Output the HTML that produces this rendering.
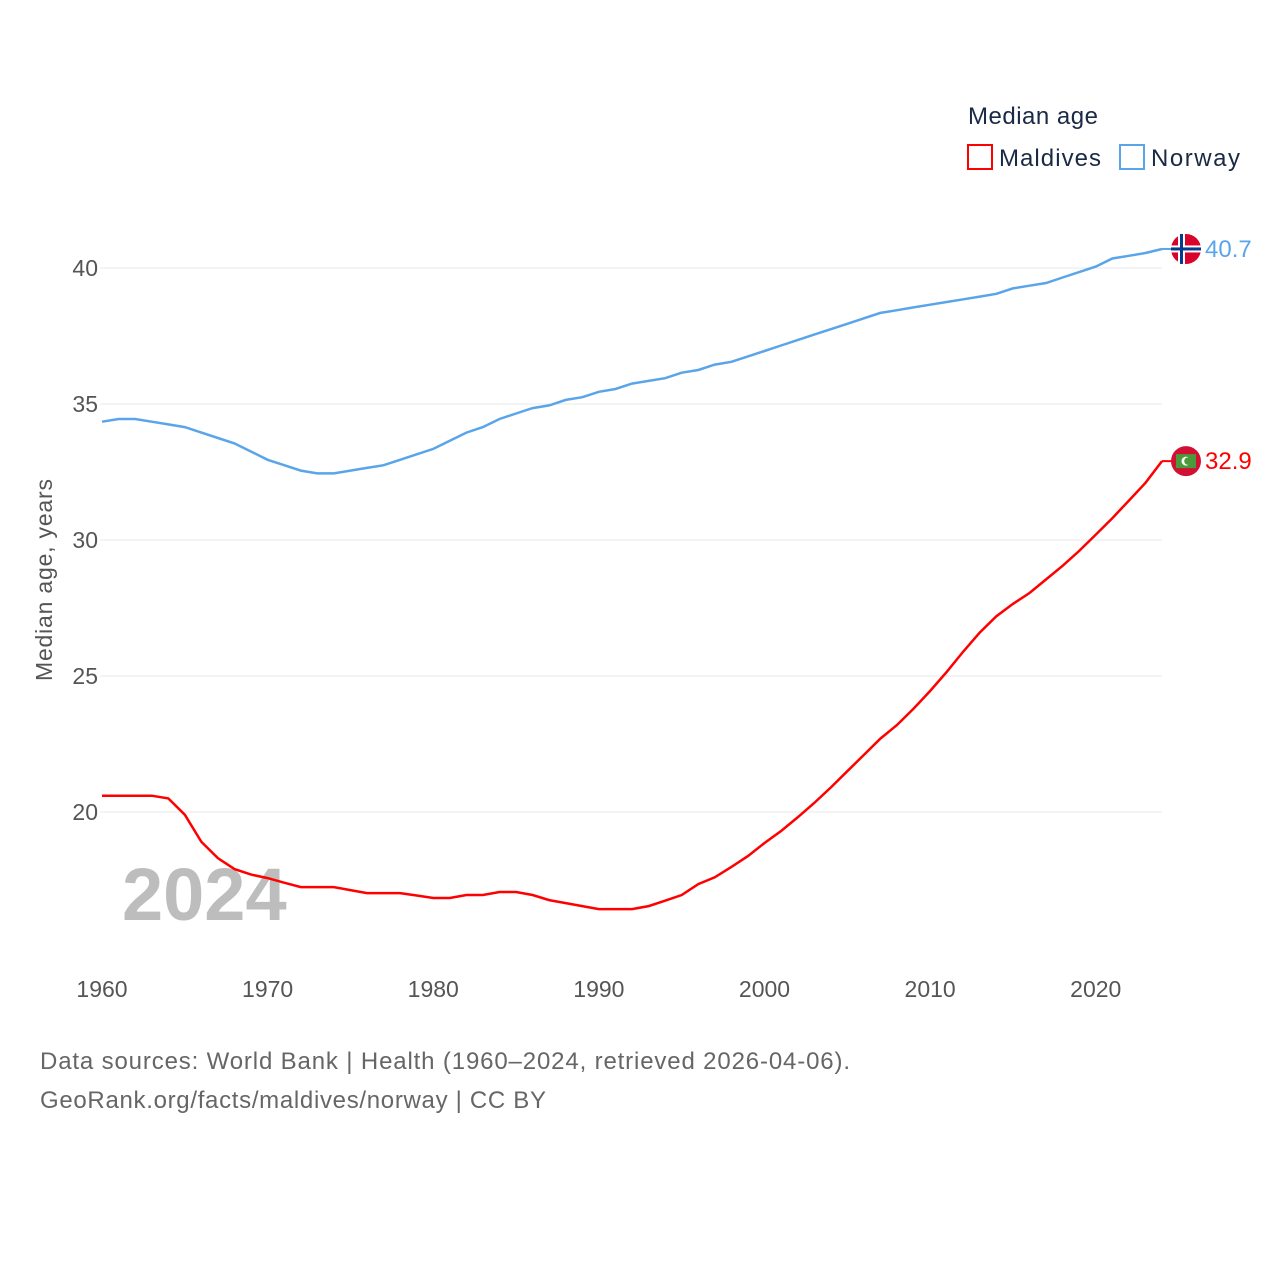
<!DOCTYPE html>
<html><head><meta charset="utf-8"><style>
body{margin:0;background:#fff;font-family:"Liberation Sans",sans-serif}
svg text{font-family:"Liberation Sans",sans-serif}
</style></head><body>
<svg id="c" width="1280" height="1280" viewBox="0 0 1280 1280">
<g id="grid"></g>
<g id="yt"></g>
<g id="xt"></g>
<text x="52" y="580" transform="rotate(-90 52 580)" text-anchor="middle" font-size="23" fill="#555" textLength="202">Median age, years</text>
<text x="122" y="920" font-size="74" font-weight="bold" fill="#bdbdbd">2024</text>
<g id="series"></g>
<g>
<text x="968" y="124" font-size="24" fill="#1a2a44" textLength="130">Median age</text>
<g><rect x="968" y="145" width="24" height="24" fill="none" stroke="#f00" stroke-width="2"/><text x="999" y="166" font-size="24" fill="#1a2a44" textLength="102">Maldives</text></g>
<g><rect x="1120" y="145" width="24" height="24" fill="none" stroke="#5aa5ea" stroke-width="2"/><text x="1151" y="166" font-size="24" fill="#1a2a44" textLength="89">Norway</text></g>
</g>
<text x="40" y="1069" font-size="24" fill="#666" textLength="810">Data sources: World Bank | Health (1960–2024, retrieved 2026-04-06).</text>
<text x="40" y="1108" font-size="24" fill="#666" textLength="506">GeoRank.org/facts/maldives/norway | CC BY</text>
</svg>
<script>
const years=[];for(let y=1960;y<=2024;y++)years.push(y);
const norway=[34.35,34.45,34.45,34.35,34.25,34.15,33.95,33.75,33.55,33.25,32.95,32.75,32.55,32.45,32.45,32.55,32.65,32.75,32.95,33.15,33.35,33.65,33.95,34.15,34.45,34.65,34.85,34.95,35.15,35.25,35.45,35.55,35.75,35.85,35.95,36.15,36.25,36.45,36.55,36.75,36.95,37.15,37.35,37.55,37.75,37.95,38.15,38.35,38.45,38.55,38.65,38.75,38.85,38.95,39.05,39.25,39.35,39.45,39.65,39.85,40.05,40.35,40.45,40.55,40.7];
const maldives=[20.6,20.6,20.6,20.6,20.5,19.9,18.9,18.3,17.9,17.7,17.57,17.4,17.24,17.24,17.24,17.13,17.02,17.02,17.02,16.93,16.84,16.84,16.95,16.95,17.06,17.06,16.95,16.76,16.65,16.54,16.43,16.43,16.43,16.54,16.74,16.95,17.35,17.6,17.98,18.38,18.86,19.3,19.8,20.33,20.9,21.5,22.1,22.7,23.2,23.8,24.45,25.15,25.9,26.6,27.2,27.65,28.05,28.55,29.05,29.6,30.2,30.8,31.45,32.1,32.9];
const yTicks=[20,25,30,35,40];
const xTicks=[1960,1970,1980,1990,2000,2010,2020];
const X=v=>102+(v-1960)*(1162-102)/64;
const Y=v=>812-(v-20)*27.2;
const NS='http://www.w3.org/2000/svg';
function mk(t,a,p){const e=document.createElementNS(NS,t);for(const k in a)e.setAttribute(k,a[k]);p.appendChild(e);return e;}
const grid=document.getElementById('grid'),yt=document.getElementById('yt'),xt=document.getElementById('xt'),ser=document.getElementById('series');
yTicks.forEach(v=>{const l=mk('line',{x1:100,x2:1162,y1:Y(v),y2:Y(v),stroke:'#e8e8e8'},grid);


const t=mk('text',{x:98,y:Y(v)+8,'text-anchor':'end','font-size':23,fill:'#555'},yt);t.textContent=v;

});
xTicks.forEach(v=>{const t=mk('text',{x:X(v),y:997,'text-anchor':'middle','font-size':23,fill:'#555'},xt);t.textContent=v;

});
function line(vals,col,name){const d=vals.map((v,i)=>(i?'L':'M')+X(years[i]).toFixed(1)+','+Y(v).toFixed(1)).join('');
const p=mk('path',{d:d,fill:'none',stroke:col,'stroke-width':2.5},ser);


const last=vals[vals.length-1],ly=Y(last);
mk('line',{x1:X(2024),x2:1178,y1:ly,y2:ly,stroke:col,'stroke-width':2},ser);
const t=mk('text',{x:1205,y:ly+8,'font-size':24,fill:col},ser);t.textContent=last.toFixed(1);


return ly;}
const ny=line(norway,'#5aa5ea','norway');
const my=line(maldives,'#f00','maldives');
const fn=mk('g',{},ser);


mk('circle',{cx:1186,cy:ny,r:15,fill:'#d9042b'},fn);
mk('rect',{x:1178,y:ny-15,width:7,height:30,fill:'#fff'},fn);
mk('rect',{x:1171,y:ny-3.5,width:30,height:7,fill:'#fff'},fn);
mk('rect',{x:1180,y:ny-15,width:3,height:30,fill:'#0a3a8c'},fn);
mk('rect',{x:1171,y:ny-1.5,width:30,height:3,fill:'#0a3a8c'},fn);
const fm=mk('g',{},ser);


mk('circle',{cx:1186,cy:my,r:15,fill:'#d21034'},fm);
mk('rect',{x:1176,y:my-7,width:20,height:14,fill:'#4a9a3c'},fm);
mk('circle',{cx:1186,cy:my,r:4.5,fill:'#fff'},fm);
mk('circle',{cx:1188,cy:my,r:3.8,fill:'#4a9a3c'},fm);
</script>
</body></html>
